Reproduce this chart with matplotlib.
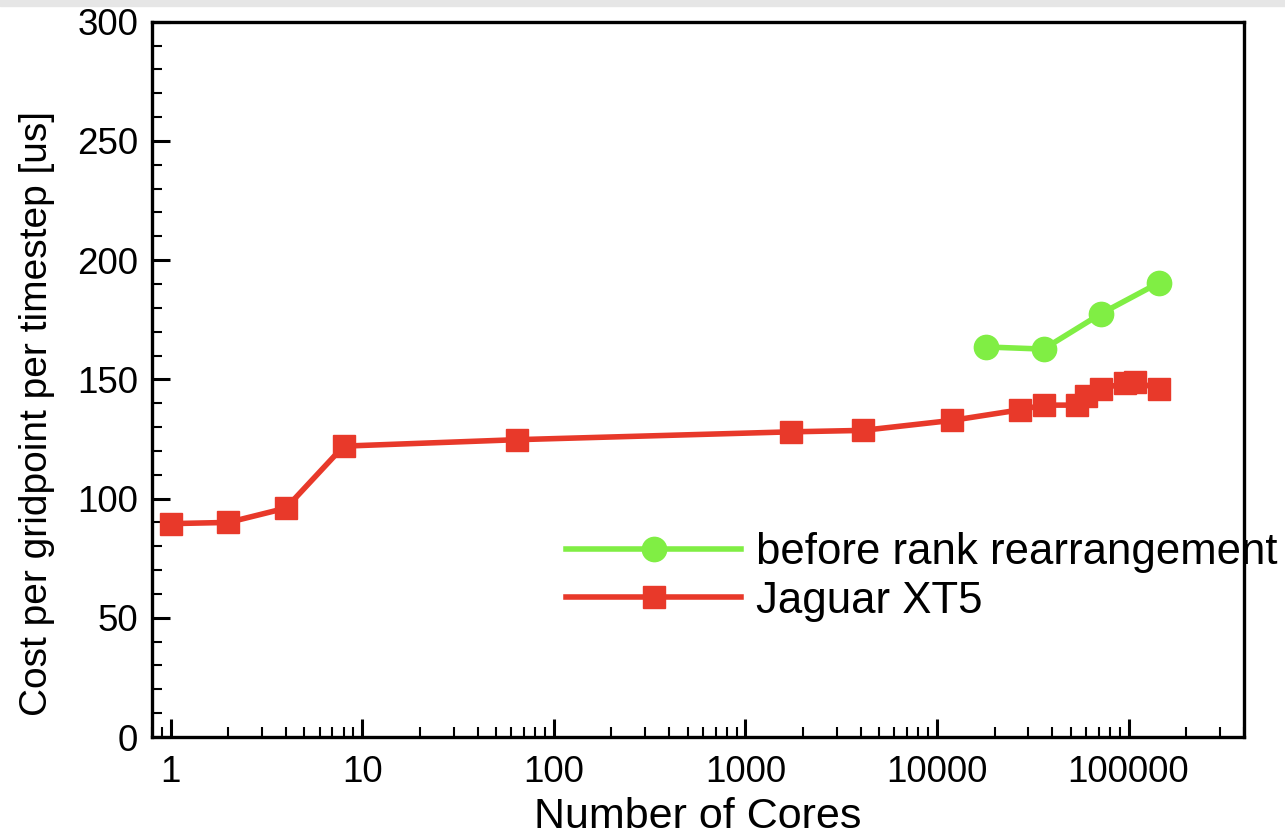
import matplotlib
matplotlib.use("Agg")
import matplotlib.pyplot as plt
from matplotlib.ticker import LogLocator, MultipleLocator, FixedLocator, NullFormatter
from matplotlib.patches import Rectangle

plt.rcParams['font.family'] = ['Liberation Sans', 'DejaVu Sans']

# 데이터
jaguar_cores = [1, 2, 4, 8, 64, 1728, 4096, 12000, 27000, 36000, 54000, 60000, 72000, 96000, 108000, 144000]
jaguar_cost = [89.5, 90, 96, 122, 124.7, 128, 128.6, 132.8, 137.2, 139.2, 139.2, 143.1, 146, 148.5, 149, 146]

before_cores = [18000, 36000, 72000, 144000]
before_cost = [163.6, 162.7, 177.6, 190.5]

red = '#E8392A'
green = '#80EE44'

fig = plt.figure(figsize=(12.85, 8.36), dpi=100)
ax = fig.add_axes([0.1183, 0.1184, 0.8497, 0.8556])

# 상단 회색 띠
fig.patches.append(Rectangle((0, 0.993), 1, 0.007, transform=fig.transFigure,
                             color='#e6e6e6', zorder=0))

ax.plot(jaguar_cores, jaguar_cost, color=red, lw=4.0, marker='s', ms=16.5,
        mec=red, mfc=red, label='Jaguar XT5', zorder=3)
ax.plot(before_cores, before_cost, color=green, lw=4.0, marker='o', ms=17.5,
        mec=green, mfc=green, label='before rank rearrangement', zorder=3)

ax.set_xscale('log')
ax.set_xlim(0.8, 400000)
ax.set_ylim(0, 300)

ax.xaxis.set_major_locator(FixedLocator([1, 10, 100, 1000, 10000, 100000]))
ax.xaxis.set_minor_locator(LogLocator(base=10, subs=range(2, 10), numticks=20))
ax.xaxis.set_minor_formatter(NullFormatter())
ax.set_xticklabels(['1', '10', '100', '1000', '10000', '100000'])
ax.yaxis.set_major_locator(MultipleLocator(50))
ax.yaxis.set_minor_locator(MultipleLocator(10))

ax.tick_params(which='major', direction='in', length=13, width=2.2, labelsize=26.5, pad=10)
ax.tick_params(axis='x', which='major', pad=13)
ax.tick_params(which='minor', direction='in', length=7, width=1.5)
ax.tick_params(axis='y', which='both', right=False)
ax.tick_params(axis='x', which='both', top=False)
for s in ax.spines.values():
    s.set_linewidth(2.4)

ax.set_xlabel('Number of Cores', fontsize=31, labelpad=5)
ax.set_ylabel('Cost per gridpoint per timestep [us]', fontsize=28)
ax.yaxis.set_label_coords(-0.089, 0.452)

h, l = ax.get_legend_handles_labels()
leg = fig.legend(h[::-1], l[::-1], loc='center left', bbox_to_anchor=(0.4405, 0.310),
                 frameon=False, fontsize=31.5, handlelength=4.0, handletextpad=0.34,
                 labelspacing=0.18, borderpad=0, borderaxespad=0)

plt.savefig('out.png', dpi=100)
